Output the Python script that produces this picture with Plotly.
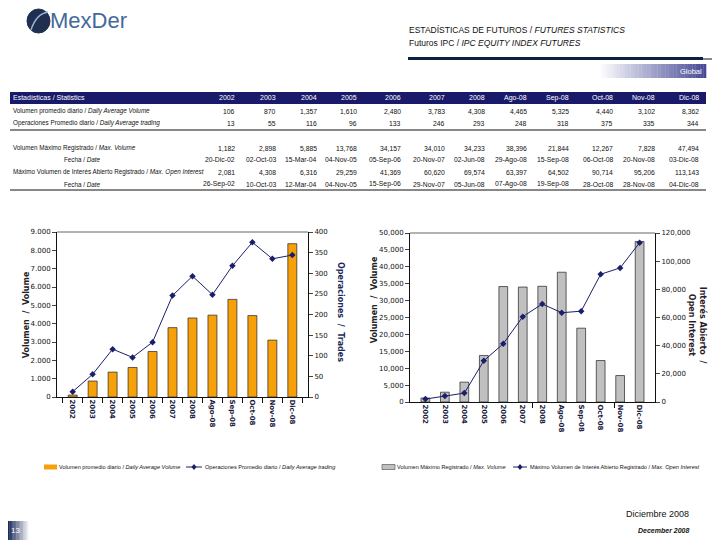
import plotly.graph_objects as go

W, H = 720, 540
OFF = 8  # page offset of the figure inside the browser window


def px(x):
    return (x - OFF) / W


def py(y):
    return 1 - (y - OFF) / H


# ---------------- data ----------------
categories = ["2002", "2003", "2004", "2005", "2006", "2007", "2008",
              "Ago-08", "Sep-08", "Oct-08", "Nov-08", "Dic-08"]
daily_volume = [106, 870, 1357, 1610, 2480, 3783, 4308, 4465, 5325, 4440, 3102, 8362]
daily_trades = [13, 55, 116, 96, 133, 246, 293, 248, 318, 375, 335, 344]
max_volume = [1182, 2898, 5885, 13768, 34157, 34010, 34233, 38396, 21844, 12267, 7828, 47494]
max_open_interest = [2081, 4308, 6316, 29259, 41369, 60620, 69574, 63397, 64502, 90714, 95206, 113143]
max_volume_dates = ["20-Dic-02", "02-Oct-03", "15-Mar-04", "04-Nov-05", "05-Sep-06", "20-Nov-07",
                    "02-Jun-08", "29-Ago-08", "15-Sep-08", "06-Oct-08", "20-Nov-08", "03-Dic-08"]
max_oi_dates = ["26-Sep-02", "10-Oct-03", "12-Mar-04", "04-Nov-05", "15-Sep-06", "29-Nov-07",
                "05-Jun-08", "07-Ago-08", "19-Sep-08", "28-Oct-08", "28-Nov-08", "04-Dic-08"]

vol_ticks = list(range(0, 9001, 1000))
trade_ticks = list(range(0, 401, 50))
maxvol_ticks = list(range(0, 50001, 5000))
oi_ticks = list(range(0, 120001, 20000))

NAME_VOL = "Volumen promedio diario / <i>Daily Average Volume</i>"
NAME_TRADES = "Operaciones Promedio diario / <i>Daily Average trading</i>"
NAME_MAXVOL = "Volumen Máximo Registrado / <i>Max. Volume</i>"
NAME_MAXOI = "Máximo Volumen de Interés Abierto Registrado / <i>Max. Open Interest</i>"

NAVY = "#1b1f6b"
ORANGE = "#f7a10a"
GREY = "#c0c0c0"
SANS = "Liberation Sans, Arial"
VERD = "DejaVu Sans, Verdana"

fig = go.Figure()

fig.add_trace(go.Bar(x=categories, y=daily_volume, xaxis="x", yaxis="y", name=NAME_VOL,
                     marker=dict(color=ORANGE, line=dict(color="#222", width=0.7)),
                     width=0.45, showlegend=False))
fig.add_trace(go.Scatter(x=categories, y=daily_trades, xaxis="x", yaxis="y2",
                         mode="lines+markers", name=NAME_TRADES,
                         line=dict(color=NAVY, width=1),
                         marker=dict(symbol="diamond", size=5, color=NAVY), showlegend=False))
fig.add_trace(go.Bar(x=categories, y=max_volume, xaxis="x2", yaxis="y3", name=NAME_MAXVOL,
                     marker=dict(color=GREY, line=dict(color="#222", width=0.7)),
                     width=0.45, showlegend=False))
fig.add_trace(go.Scatter(x=categories, y=max_open_interest, xaxis="x2", yaxis="y4",
                         mode="lines+markers", name=NAME_MAXOI,
                         line=dict(color=NAVY, width=1),
                         marker=dict(symbol="diamond", size=5, color=NAVY), showlegend=False))
fig.add_trace(go.Scatter(x=[None], y=[None], xaxis="x3", yaxis="y3", showlegend=False,
                         hoverinfo="skip"))

L_X0, L_X1, L_Y0, L_Y1 = 57, 308, 397, 232
R_X0, R_X1, R_Y0, R_Y1 = 410, 655, 402, 233

tickfont = dict(family=VERD, size=7, color="#111")
xtickfont = dict(family=VERD, size=7, color="#1a1a40", weight="bold")

fig.update_layout(
    width=W, height=H, margin=dict(l=0, r=0, t=0, b=0, autoexpand=False),
    paper_bgcolor="white", plot_bgcolor="white", showlegend=False,
    xaxis=dict(domain=[px(L_X0), px(L_X1)], anchor="y", type="category",
               showline=True, linecolor="#111", linewidth=1,
               ticks="outside", tickson="boundaries", ticklen=5, tickcolor="#111",
               tickangle=90, tickfont=xtickfont, showgrid=False, automargin=False),
    yaxis=dict(domain=[py(L_Y0), py(L_Y1)], anchor="x", range=[0, 9000],
               tickvals=vol_ticks, ticktext=[f"{v:,}".replace(",", ".") for v in vol_ticks],
               showline=True, linecolor="#111", ticks="outside", ticklen=4,
               tickfont=tickfont, showgrid=False, zeroline=False, automargin=False),
    yaxis2=dict(overlaying="y", anchor="x", side="right", range=[0, 400],
                tickvals=trade_ticks, showline=True, linecolor="#111",
                ticks="outside", ticklen=4, tickfont=tickfont,
                showgrid=False, zeroline=False, automargin=False),
    xaxis2=dict(domain=[px(R_X0), px(R_X1)], anchor="y3", type="category",
                showline=True, linecolor="#111", linewidth=1, ticks="",
                tickangle=90, tickfont=xtickfont, showgrid=False, automargin=False),
    xaxis3=dict(overlaying="x2", anchor="y3", type="linear", range=[-0.5, 11.5],
                tickvals=[5.5, 9.5], ticks="outside", ticklen=5, tickcolor="#111",
                showticklabels=False, showline=False, showgrid=False, zeroline=False),
    yaxis3=dict(domain=[py(R_Y0), py(R_Y1)], anchor="x2", range=[0, 50000],
                tickvals=maxvol_ticks, ticktext=[f"{v:,}" for v in maxvol_ticks],
                showline=True, linecolor="#111", ticks="outside", ticklen=4,
                tickfont=tickfont, showgrid=False, zeroline=False, automargin=False),
    yaxis4=dict(overlaying="y3", anchor="x2", side="right", range=[0, 120000],
                tickvals=oi_ticks, ticktext=[f"{v:,}" for v in oi_ticks],
                showline=True, linecolor="#111", ticks="outside", ticklen=4,
                tickfont=tickfont, showgrid=False, zeroline=False, automargin=False),
)

shapes = []
annotations = []


def rect(x0, y0, x1, y1, color, layer="below"):
    shapes.append(dict(type="rect", xref="paper", yref="paper",
                       x0=px(x0), x1=px(x1), y0=py(y1), y1=py(y0),
                       fillcolor=color, line=dict(width=0), layer=layer))


def hline(x0, x1, y, color, width):
    shapes.append(dict(type="line", xref="paper", yref="paper",
                       x0=px(x0), x1=px(x1), y0=py(y), y1=py(y),
                       line=dict(color=color, width=width)))


def text(x, y, s, size=8, color="#111", family=SANS, xanchor="left", **kw):
    annotations.append(dict(xref="paper", yref="paper", x=px(x), y=py(y), text=s,
                            showarrow=False, xanchor=xanchor, yanchor="middle",
                            borderpad=0, font=dict(size=size, color=color, family=family),
                            **kw))


def vtext(cx, cy, s, angle, size=8, color="#222", family=VERD):
    shapes.append(dict(type="rect", xref="paper", yref="paper",
                       x0=px(cx - 4), x1=px(cx + 4), y0=py(cy + 4), y1=py(cy - 4),
                       line=dict(width=0), fillcolor="rgba(0,0,0,0)",
                       label=dict(text=s, textangle=angle, textposition="middle center",
                                  font=dict(size=size, color=color, family=family,
                                            weight="bold"))))


def gradient(x0, y0, x1, y1, c0, c1, n=40):
    for i in range(n):
        t = i / (n - 1)
        c = tuple(round(c0[k] + (c1[k] - c0[k]) * t) for k in range(3))
        xa = x0 + (x1 - x0) * i / n
        xb = x0 + (x1 - x0) * (i + 1) / n + 0.3
        rect(xa, y0, xb, y1, "rgb(%d,%d,%d)" % c)


def legend_line(x0, x1, y):
    hline(x0, x1, y, NAVY, 1)
    cx = (x0 + x1) / 2
    shapes.append(dict(type="path", xref="paper", yref="paper",
                       path="M %f %f L %f %f L %f %f L %f %f Z" % (
                           px(cx), py(y - 3), px(cx + 2.5), py(y), px(cx), py(y + 3),
                           px(cx - 2.5), py(y)),
                       fillcolor=NAVY, line=dict(width=0)))


# plot top borders
hline(L_X0, L_X1, L_Y1, "#666", 1)
hline(R_X0, R_X1, R_Y1, "#666", 1)

# ---------------- header ----------------
shapes.append(dict(type="circle", xref="paper", yref="paper",
                   x0=px(27), x1=px(50), y0=py(33), y1=py(9),
                   fillcolor="#1f2f4f", line=dict(color="#1f2f4f", width=1)))
shapes.append(dict(type="path", xref="paper", yref="paper",
                   path="M %f %f Q %f %f %f %f" % (px(31), py(30), px(36), py(14), px(48), py(12)),
                   line=dict(color="#9fb4d0", width=1.5)))
text(49, 21, "MexDer", size=22, color="#44689a", family=SANS)

text(408, 30, "ESTADÍSTICAS DE FUTUROS / <i>FUTURES STATISTICS</i>", size=8.5, color="#111")
text(408, 43, "Futuros IPC / <i>IPC EQUITY INDEX FUTURES</i>", size=8.5, color="#111")
hline(408, 703, 58.5, "#0d2040", 3)
hline(703, 712, 59, "#888", 2)

gradient(598, 64, 706, 78, (255, 255, 255), (70, 74, 150))
text(703, 71, "Global", size=7.5, color="white", family=SANS, xanchor="right")

# ---------------- table ----------------
col_right = [236, 277, 318, 358, 402, 446, 486, 528, 570, 614, 656, 700]
rect(10, 92, 706, 104, "#1a1a6b")
text(12, 98, "Estadísticas / Statistics", size=7, color="white")
for cx, c in zip(col_right, categories):
    text(cx, 98, c, size=7, color="white", xanchor="right")

rows = [
    (111, 12, NAME_VOL, [f"{v:,}" for v in daily_volume]),
    (123, 12, NAME_TRADES, [f"{v:,}" for v in daily_trades]),
    (148, 12, NAME_MAXVOL, [f"{v:,}" for v in max_volume]),
    (160, 63, "Fecha / <i>Date</i>", max_volume_dates),
    (172, 12, NAME_MAXOI, [f"{v:,}" for v in max_open_interest]),
    (184, 63, "Fecha / <i>Date</i>", max_oi_dates),
]
for ry, lx, label, vals in rows:
    text(lx, ry, label, size=6.3)
    for cx, v in zip(col_right, vals):
        text(cx, ry, v, size=6.8, xanchor="right")
hline(10, 706, 130, "#111", 1)
hline(10, 706, 190, "#111", 1)

# ---------------- axis titles ----------------
vtext(25, 315, "Volumen  /  Volume", -90)
vtext(341, 312, "Operaciones  /  Trades", 90, color="#1c2a5a")
vtext(373, 300, "Volumen  /  Volume", -90)
vtext(703, 325, "Interés Abierto  /", 90, color="#2a1a2a")
vtext(692, 325, "Open Interest", 90, color="#2a1a2a")

# ---------------- legends ----------------
LEG_Y = 467
LEG_FS = 5.6
# left chart legend
rect(44, LEG_Y - 2.5, 57, LEG_Y + 2.5, ORANGE, layer="above")
text(58, LEG_Y, NAME_VOL, size=LEG_FS)
legend_line(186, 202, LEG_Y)
text(204, LEG_Y, NAME_TRADES, size=LEG_FS)
# right chart legend
rect(382, LEG_Y - 2.5, 395, LEG_Y + 2.5, GREY, layer="above")
shapes.append(dict(type="rect", xref="paper", yref="paper",
                   x0=px(382), x1=px(395), y0=py(LEG_Y + 2.5), y1=py(LEG_Y - 2.5),
                   line=dict(color="#444", width=0.6)))
text(396, LEG_Y, NAME_MAXVOL, size=LEG_FS)
legend_line(513, 527, LEG_Y)
text(529, LEG_Y, NAME_MAXOI, size=LEG_FS)

# ---------------- footer ----------------
text(690, 514, "Diciembre 2008", size=9, color="#111", xanchor="right")
text(690, 530, "<b><i>December 2008</i></b>", size=7, color="#111", xanchor="right")
gradient(8, 521, 30, 540, (27, 42, 90), (255, 255, 255), n=16)
text(10, 530, "13", size=8, color="white")

fig.update_layout(shapes=shapes, annotations=annotations)
fig.write_html("out.html")
